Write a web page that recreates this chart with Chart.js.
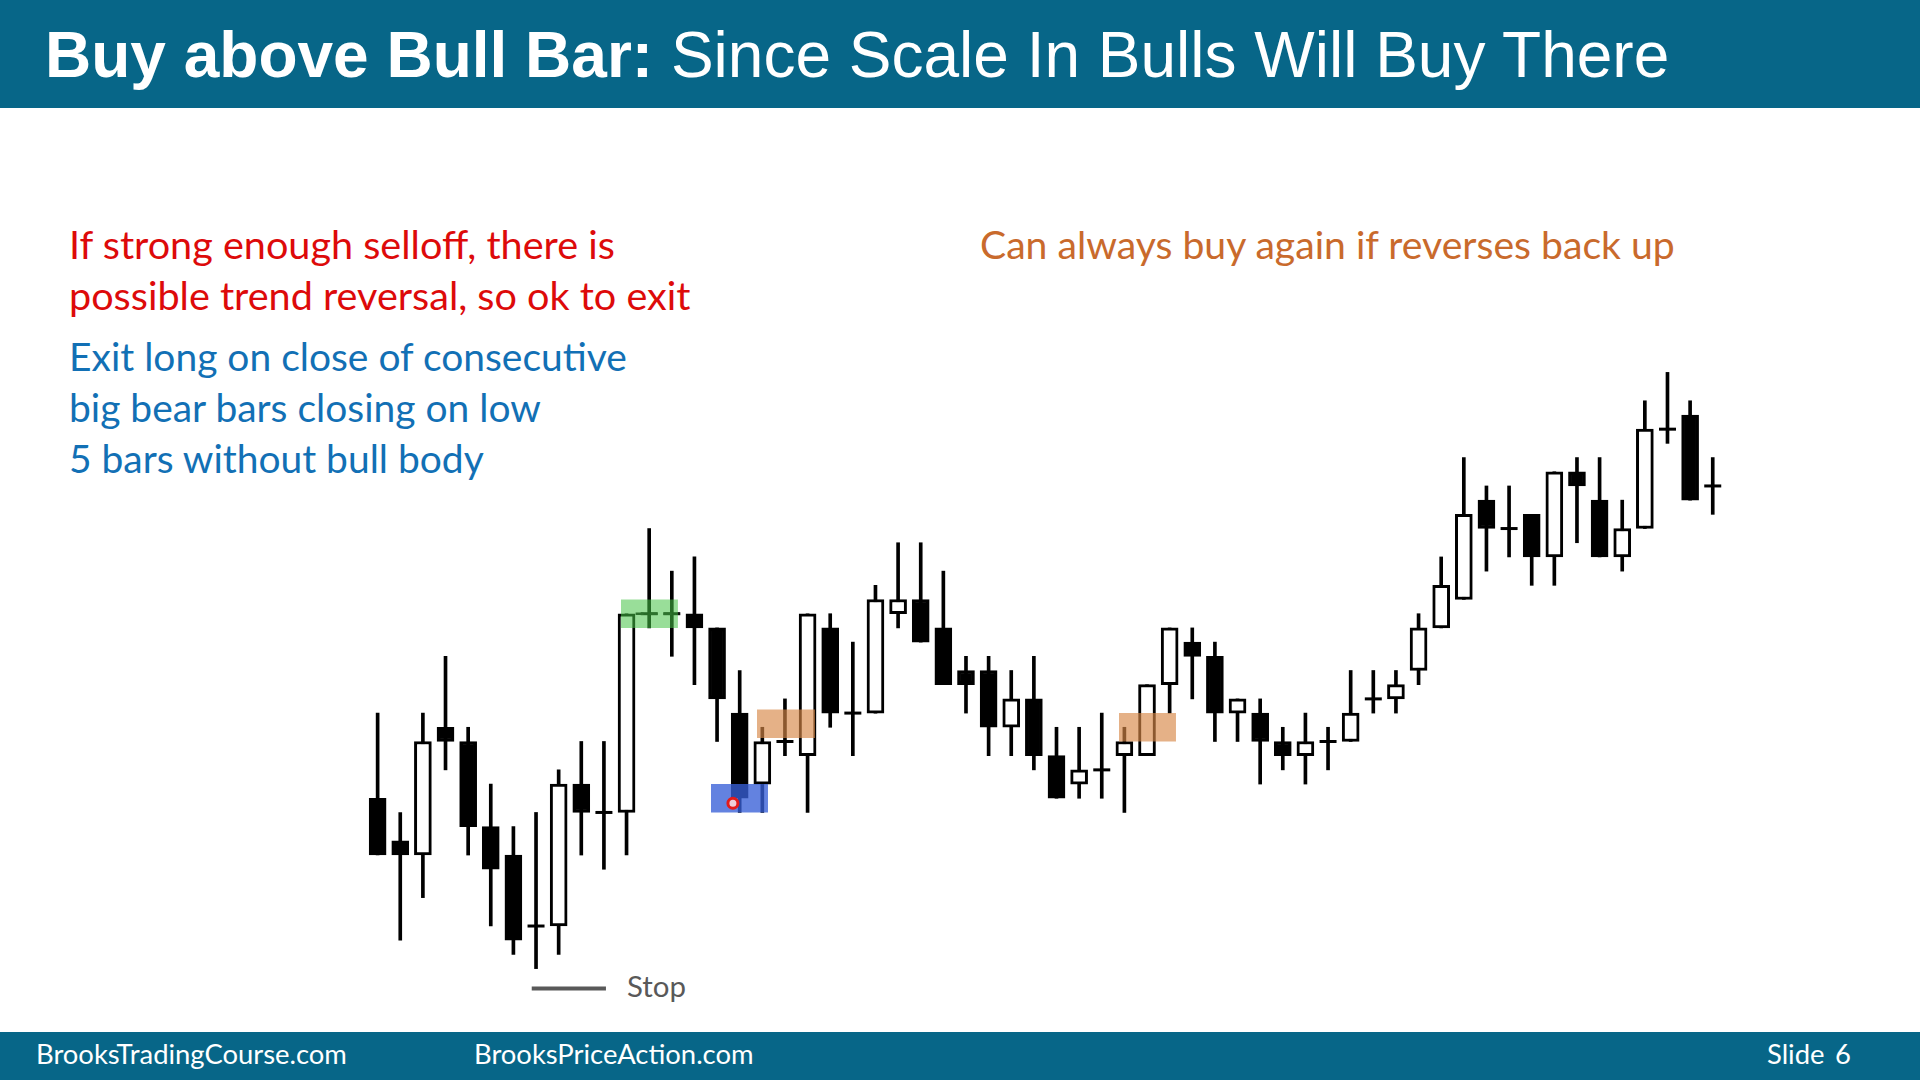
<!DOCTYPE html>
<html>
<head>
<meta charset="utf-8">
<script src="https://cdn.jsdelivr.net/npm/chart.js@4.4.0/dist/chart.umd.min.js"></script>
<style>
  html, body { margin: 0; padding: 0; width: 1920px; height: 1080px; overflow: hidden; background: #fff; }
  .band { position: absolute; left: 0; width: 1920px; background: #076688; }
  .t { position: absolute; white-space: nowrap; line-height: 1; font-family: Lato, sans-serif; }
  #title { font-family: "Liberation Sans", Arial, sans-serif; color: #fff; font-size: 64px; }
  #wrap { position: absolute; left: 355px; top: 344px; width: 1403px; height: 653px; }
</style>
</head>
<body>
<div class="band" style="top:0;height:108px"></div>
<div class="band" style="top:1032px;height:48px"></div>
<div id="title" class="t"><b>Buy above Bull Bar:</b> Since Scale In Bulls Will Buy There</div>

<div id="r1" class="t" style="color:#dd0a0a">If strong enough selloff, there is</div>
<div id="r2" class="t" style="color:#dd0a0a">possible trend reversal, so ok to exit</div>
<div id="b1" class="t" style="color:#1270b5">Exit long on close of consecutive</div>
<div id="b2" class="t" style="color:#1270b5">big bear bars closing on low</div>
<div id="b3" class="t" style="color:#1270b5">5 bars without bull body</div>
<div id="o1" class="t" style="color:#c96a2c">Can always buy again if reverses back up</div>
<div id="stop" class="t" style="color:#595959">Stop</div>
<div id="f1" class="t" style="color:#fff">BrooksTradingCourse.com</div>
<div id="f2" class="t" style="color:#fff">BrooksPriceAction.com</div>
<div id="f3" class="t" style="color:#fff">Slide</div>
<div id="f4" class="t" style="color:#fff">6</div>

<div id="wrap"><canvas id="chart" width="1403" height="653"></canvas></div>

<script>
// price bars (one unit = one tick step)
const opens  = [12, 9, 8, 17, 16, 10, 8, 3, 3, 13, 11, 11, 25, 25, 25, 24, 18, 13, 16, 15,
                24, 18, 18, 25, 26, 24, 21, 21, 17, 19, 15, 13, 14, 15, 15, 20, 23, 22, 18, 18,
                16, 15, 16, 16, 19, 19, 21, 24, 26, 33, 31, 32, 29, 35, 33, 29, 31, 38, 39, 34];
const highs  = [18, 11, 18, 22, 17, 13, 10, 11, 14, 16, 16, 25, 31, 28, 29, 24, 21, 17, 19, 25,
                25, 23, 27, 30, 30, 28, 22, 22, 21, 22, 17, 17, 18, 17, 20, 24, 24, 23, 19, 19,
                17, 18, 17, 21, 21, 21, 25, 29, 36, 34, 34, 32, 35, 36, 36, 33, 40, 42, 40, 36];
const lows   = [8, 2, 5, 14, 8, 3, 1, 0, 1, 8, 7, 8, 24, 22, 20, 16, 11, 11, 15, 11,
                17, 15, 18, 24, 23, 20, 18, 15, 15, 14, 12, 12, 12, 11, 15, 18, 19, 16, 16, 13,
                14, 13, 14, 16, 18, 18, 20, 24, 26, 28, 29, 27, 27, 30, 29, 28, 31, 37, 33, 32];
const closes = [8, 8, 16, 16, 10, 7, 2, 3, 13, 11, 11, 25, 25, 25, 24, 19, 12, 16, 16, 25,
                18, 18, 26, 26, 23, 20, 20, 17, 19, 15, 12, 14, 14, 16, 20, 24, 22, 18, 19, 16,
                15, 16, 16, 18, 19, 20, 24, 27, 32, 31, 31, 29, 35, 34, 29, 31, 38, 38, 33, 34];

// shaded zones: bar index span and price span
const zoneFrom = [11.75, 15.73, 17.76, 33.76];
const zoneTo   = [14.27, 18.25, 20.33, 36.28];
const zoneLow  = [24, 11, 16.25, 16];
const zoneHigh = [26, 13, 18.25, 18];

// dashed entry line above the bull bar, the stop line and the cursor dot
const entryFrom = 12.4, entryTo = 14.35, entryPrice = 25;
const stopFrom = 7.81, stopTo = 11.09, stopPrice = -1.4;
const cursorBar = 16.7, cursorPrice = 11.65;

const zoneColors = ['rgba(70,195,70,0.55)', 'rgba(55,95,215,0.78)', 'rgba(215,135,70,0.65)', 'rgba(215,135,70,0.65)'];

const wickData = opens.map((o, i) => ({ x: i + 1, y: [lows[i], highs[i]] }));
const bodyData = [], bodyFill = [], dojiData = [];
opens.forEach((o, i) => {
  const c = closes[i];
  if (o === c) { dojiData.push({ x: i + 1, y: c }); return; }
  bodyData.push({ x: i + 1, y: [Math.min(o, c), Math.max(o, c)] });
  bodyFill.push(c > o ? '#ffffff' : '#000000');
});

const datasets = [];
datasets.push({
  type: 'scatter', data: [{ x: cursorBar, y: cursorPrice }],
  pointRadius: 5, borderWidth: 3, borderColor: '#e31b1b', backgroundColor: 'rgba(255,215,215,0.9)'
});
zoneFrom.forEach((f, k) => {
  datasets.push({
    type: 'line',
    data: [{ x: f, y: zoneHigh[k] }, { x: zoneTo[k], y: zoneHigh[k] }],
    fill: { value: zoneLow[k] }, backgroundColor: zoneColors[k],
    borderWidth: 0, pointRadius: 0
  });
});
datasets.push({
  type: 'line', data: [{ x: entryFrom, y: entryPrice }, { x: entryTo, y: entryPrice }],
  borderColor: '#111', borderWidth: 2.5, borderDash: [8, 6], pointRadius: 0, fill: false
});
datasets.push({
  type: 'scatter', data: dojiData,
  pointStyle: 'line', pointRadius: 8.5, borderWidth: 3, borderColor: '#000'
});
datasets.push({
  type: 'bar', data: bodyData, grouped: false, barThickness: 17,
  backgroundColor: bodyFill, borderColor: '#000', borderWidth: 3, borderSkipped: false
});
datasets.push({
  type: 'bar', data: wickData, grouped: false, barThickness: 3,
  backgroundColor: '#000', borderWidth: 0
});
datasets.push({
  type: 'line', data: [{ x: stopFrom, y: stopPrice }, { x: stopTo, y: stopPrice }],
  borderColor: '#595959', borderWidth: 4, pointRadius: 0, fill: false
});

new Chart(document.getElementById('chart'), {
  type: 'bar',
  data: { datasets: datasets },
  options: {
    responsive: false,
    animation: false,
    devicePixelRatio: 1,
    layout: { padding: 0, autoPadding: false },
    plugins: { legend: { display: false }, tooltip: { enabled: false } },
    scales: {
      x: { type: 'linear', min: 0, max: 62, offset: false, display: false },
      y: { min: -2, max: 44, display: false }
    }
  }
});

// text placement: left, baseline, wanted width of the fitted line
function fit(id, width) {
  const el = document.getElementById(id);
  el.style.fontSize = '40px';
  return 40 * width / el.getBoundingClientRect().width;
}
function place(id, left, baseline, size, asc) {
  const el = document.getElementById(id);
  el.style.fontSize = size + 'px';
  el.style.left = left + 'px';
  el.style.top = (baseline - asc * size) + 'px';
}
const LATO = 0.887;
place('title', 45, 77, 64, 0.846);
const redSize = fit('r1', 546);
place('r1', 69, 259, redSize, LATO);
place('r2', 69, 310, redSize, LATO);
const blueSize = fit('b1', 558);
place('b1', 69, 372, blueSize, LATO);
place('b2', 69, 423, blueSize, LATO);
place('b3', 69, 474, blueSize, LATO);
place('o1', 980, 259, fit('o1', 695), LATO);
place('stop', 627, 997, fit('stop', 59), LATO);
const footSize = fit('f1', 311);
place('f1', 36, 1064, footSize, LATO);
place('f2', 474, 1064, footSize, LATO);
place('f3', 1767, 1064, footSize, LATO);
place('f4', 1835, 1064, footSize, LATO);
</script>
</body>
</html>
